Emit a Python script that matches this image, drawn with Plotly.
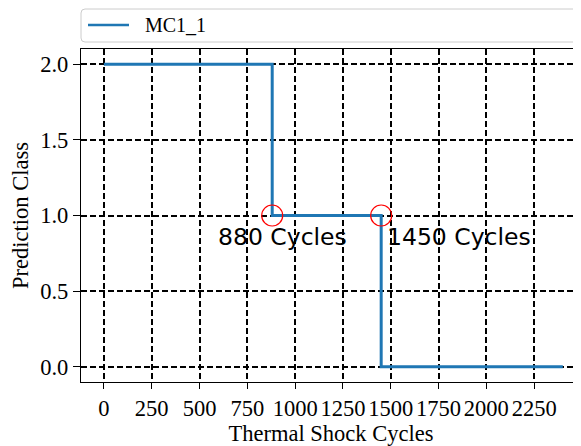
import plotly.graph_objects as go

# Data
cycles = [0, 880, 1450, 2400]
pred_class = [2, 1, 0, 0]
series_name = "MC1_1"
event_cycles = [880, 1450]
event_class = [1, 1]
event_labels = ["880 Cycles", "1450 Cycles"]
label_x = [585, 1470]
label_y = [0.86, 0.86]
x_ticks = [0, 250, 500, 750, 1000, 1250, 1500, 1750, 2000, 2250]
y_ticks = [0.0, 0.5, 1.0, 1.5, 2.0]

# page body has an 8px margin, so the figure starts at (8, 8) in the window
OFF = 8
W, H = 581 - OFF, 446 - OFF
L, T = 81 - OFF, 49 - OFF
plot_bottom = 382 - OFF
B = H - plot_bottom
pw = W - L
ph = H - T - B
px_per_x = 47.8 / 250
x0 = -120
x1 = x0 + pw / px_per_x

fig = go.Figure()
fig.add_trace(go.Scatter(x=cycles, y=pred_class, mode="lines", line_shape="hv",
                         line=dict(color="#1f77b4", width=3), name=series_name,
                         showlegend=False))
fig.add_trace(go.Scatter(x=event_cycles, y=event_class, mode="markers",
                         marker=dict(symbol="circle-open", size=21, color="red",
                                     line=dict(width=1.2, color="red")),
                         showlegend=False))

for t, xx, yy in zip(event_labels, label_x, label_y):
    fig.add_annotation(x=xx, y=yy, text=t, showarrow=False, xanchor="left",
                       yanchor="middle", font=dict(family="DejaVu Sans", size=23.5, color="black"))

# legend box (matplotlib-style, expanded); positions given in window pixels
def py(p):
    return 1 + (T - (p - OFF)) / ph
def pxp(p):
    return ((p - OFF) - L) / pw
bx0, bx1 = pxp(81), pxp(600)
by0, by1 = py(42), py(9)
rx, ry = 4 / pw, 4 / ph
path = (f"M {bx0+rx},{by1} L {bx1},{by1} L {bx1},{by0} L {bx0+rx},{by0} "
        f"Q {bx0},{by0} {bx0},{by0+ry} L {bx0},{by1-ry} Q {bx0},{by1} {bx0+rx},{by1} Z")
fig.add_shape(type="path", path=path, xref="paper", yref="paper",
              line=dict(color="#cccccc", width=1), fillcolor="white", layer="above")
fig.add_shape(type="line", xref="paper", yref="paper", x0=pxp(88), x1=pxp(129),
              y0=py(25), y1=py(25), line=dict(color="#1f77b4", width=2.5), layer="above")
fig.add_annotation(xref="paper", yref="paper", x=pxp(143), y=py(25), text=series_name,
                   showarrow=False, xanchor="left", yanchor="middle",
                   font=dict(family="Liberation Serif", size=20, color="black"))

axis_font = dict(family="Liberation Serif", size=22.5, color="black")
fig.update_layout(
    width=W, height=H,
    margin=dict(l=L, r=0, t=T, b=B, autoexpand=False),
    paper_bgcolor="white", plot_bgcolor="white",
    showlegend=False,
    xaxis=dict(range=[x0, x1], tickmode="array", tickvals=x_ticks,
               ticktext=[str(v) for v in x_ticks], automargin=False, tickangle=0,
               showgrid=True, gridcolor="black", gridwidth=1.5, griddash="6px,3px",
               showline=True, linecolor="black", linewidth=1.3, mirror=True,
               ticks="outside", ticklen=6, tickcolor="black", tickwidth=1.3,
               tickfont=axis_font, zeroline=False,
               title=dict(text="Thermal Shock Cycles", font=axis_font, standoff=0)),
    yaxis=dict(range=[-0.1, 2.1], tickmode="array", tickvals=y_ticks,
               ticktext=[f"{v:.1f}" for v in y_ticks], automargin=False,
               showgrid=True, gridcolor="black", gridwidth=1.5, griddash="6px,3px",
               showline=True, linecolor="black", linewidth=1.3, mirror=False,
               ticks="outside", ticklen=7, tickcolor="black", tickwidth=1.3,
               tickfont=axis_font, zeroline=False,
               title=dict(text="Prediction Class", font=axis_font, standoff=8)),
)

fig.write_html("out.html")
